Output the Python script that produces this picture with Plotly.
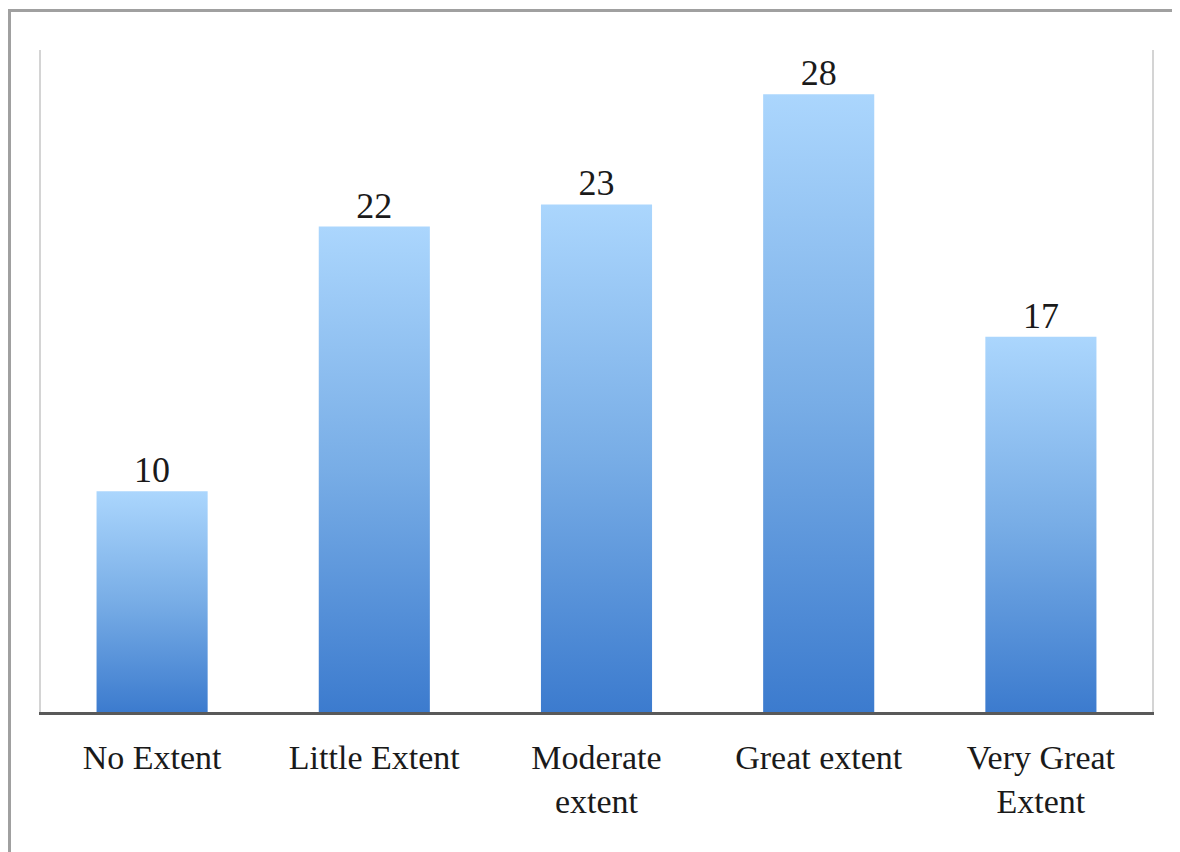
import plotly.graph_objects as go

categories = ["No Extent", "Little Extent", "Moderate<br>extent", "Great extent", "Very Great<br>Extent"]
values = [10, 22, 23, 28, 17]

BAR_HALF = 0.25
GRAD = [[0.0, "#3c7bce"], [0.5, "#78ade6"], [1.0, "#abd6fd"]]
FONT = "Liberation Serif, DejaVu Serif, serif"

ML, MR, MT, MB = 33, 36, 42, 148
PW = 1180 - ML - MR
PH = 852 - MT - MB

fig = go.Figure()

for i, v in enumerate(values):
    fig.add_trace(go.Scatter(
        x=[i - BAR_HALF, i - BAR_HALF, i + BAR_HALF, i + BAR_HALF, i - BAR_HALF],
        y=[0, v, v, 0, 0],
        mode="lines",
        line=dict(width=0, color="rgba(0,0,0,0)"),
        fill="toself",
        fillgradient=dict(type="vertical", colorscale=GRAD),
        hoverinfo="skip",
        showlegend=False,
    ))

fig.add_trace(go.Scatter(
    x=list(range(len(values))),
    y=values,
    mode="text",
    text=[str(v) for v in values],
    textposition="top center",
    textfont=dict(family=FONT, size=36, color="#1a1a1a"),
    showlegend=False,
    hoverinfo="skip",
))

fig.update_layout(
    width=1180,
    height=852,
    margin=dict(l=ML, r=MR, t=MT, b=MB),
    paper_bgcolor="white",
    plot_bgcolor="white",
    font=dict(family=FONT, color="#1a1a1a"),
    xaxis=dict(
        range=[-0.5, len(values) - 0.5],
        tickmode="array",
        tickvals=list(range(len(values))),
        ticktext=categories,
        tickfont=dict(family=FONT, size=34, color="#1a1a1a"),
        showgrid=False,
        zeroline=False,
        showline=True,
        linecolor="#595959",
        linewidth=3,
        ticks="outside",
        ticklen=13,
        tickcolor="rgba(0,0,0,0)",
        fixedrange=True,
    ),
    yaxis=dict(
        range=[0, 30],
        showgrid=False,
        zeroline=False,
        showticklabels=False,
        showline=True,
        mirror=True,
        linecolor="#d4d4d4",
        linewidth=2,
        ticks="",
        fixedrange=True,
    ),
    shapes=[dict(
        type="rect", xref="paper", yref="paper",
        x0=(1.5 - ML) / PW, x1=(1300 - ML) / PW,
        y0=(MT + PH - 1000) / PH, y1=(MT + PH - 2.5) / PH,
        line=dict(color="#a0a0a0", width=3),
        fillcolor="rgba(0,0,0,0)",
        layer="below",
    )],
)

fig.write_html("out.html")
